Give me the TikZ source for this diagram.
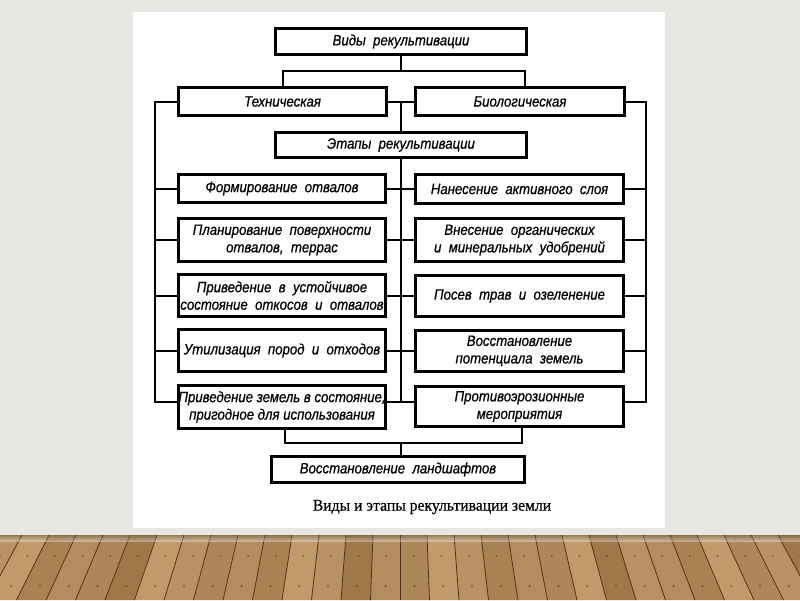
\documentclass[tikz,border=0pt]{standalone}
\usepackage{fontspec}
\setmainfont{Liberation Serif}
\newfontfamily\diagfont[FakeStretch=0.88,FakeBold=0.6]{Liberation Sans}
\newfontfamily\capfont[FakeStretch=0.95,FakeBold=0.6]{Liberation Serif}
\definecolor{slidegray}{HTML}{E9E7E3}
\definecolor{woodA}{HTML}{B89262}
\definecolor{woodB}{HTML}{A98252}
\definecolor{woodC}{HTML}{C09A68}
\definecolor{woodD}{HTML}{AE8758}
\definecolor{woodE}{HTML}{9F7848}
\definecolor{woodF}{HTML}{B38D5D}
\definecolor{woodline}{HTML}{4E331A}
\begin{document}
\begin{tikzpicture}[x=1pt,y=-1pt,
  box/.style={draw=black, line width=2.6pt, fill=white, align=center, inner sep=0pt,
    font=\diagfont\itshape\fontsize{15}{17.5}\selectfont},
  conn/.style={draw=black, line width=2pt},
  caption/.style={font=\capfont\fontsize{16.5}{18}\selectfont, inner sep=0pt}
]
\useasboundingbox (0,0) rectangle (800,600);
% slide background
\fill[slidegray] (0,0) rectangle (800,600);
% wooden floor
\foreach \i/\c in {-16/woodD,-15/woodA,-14/woodC,-13/woodB,-12/woodF,-11/woodD,-10/woodE,-9/woodC,-8/woodA,-7/woodD,-6/woodF,-5/woodB,-4/woodC,-3/woodA,-2/woodE,-1/woodF,0/woodD,1/woodC,2/woodA,3/woodB,4/woodF,5/woodD,6/woodC,7/woodE,8/woodA,9/woodF,10/woodB,11/woodC,12/woodD,13/woodA,14/woodE,15/woodC} {
  \fill[\c] ({400+\i*27},535) -- ({400+(\i+1)*27},535) -- ({400+(\i+1)*29.5},600) -- ({400+\i*29.5},600) -- cycle;
  \fill[woodline, opacity=0.55] ({400+(\i+0.5)*27.6},556) circle (1.1);
  \fill[woodline, opacity=0.55] ({400+(\i+0.5)*28.8},586) circle (1.2);
}
\foreach \i in {-16,...,16} {
  \draw[woodline, line width=0.8pt] ({400+\i*27},535) -- ({400+\i*29.5},600);
}
\shade[top color=black!70, bottom color=white, opacity=0.35] (0,535) rectangle (800,541);
% white panel
\fill[white] (133,12) rectangle (665,528);

% boxes
\node[box, minimum width=251pt, minimum height=26pt] (top) at (401,41.5) {Виды\ \ рекультивации};
\node[box, minimum width=208pt, minimum height=28pt] (tech) at (282.5,101.5) {Техническая};
\node[box, minimum width=209pt, minimum height=28pt] (bio) at (520,101.5) {Биологическая};
\node[box, minimum width=251pt, minimum height=25pt] (etapy) at (401,145) {Этапы\ \ рекультивации};

\node[box, minimum width=207pt, minimum height=28pt] (L1) at (282,188.5) {Формирование\ \ отвалов};
\node[box, minimum width=207pt, minimum height=43pt] (L2) at (282,240) {Планирование\ \ поверхности\\отвалов,\ \ террас};
\node[box, minimum width=207pt, minimum height=42pt] (L3) at (282,295.5) {Приведение\ \ в\ \ устойчивое\\состояние\ \ откосов\ \ и\ \ отвалов};
\node[box, minimum width=207pt, minimum height=42pt] (L4) at (282,350.5) {Утилизация\ \ пород\ \ и\ \ отходов};
\node[box, minimum width=207pt, minimum height=43pt] (L5) at (282,407) {Приведение земель в состояние,\\пригодное для использования};

\node[box, minimum width=208pt, minimum height=29pt] (R1) at (519.5,189) {Нанесение\ \ активного\ \ слоя};
\node[box, minimum width=208pt, minimum height=43pt] (R2) at (519.5,240) {Внесение\ \ органических\\и\ \ минеральных\ \ удобрений};
\node[box, minimum width=208pt, minimum height=41pt] (R3) at (519.5,296) {Посев\ \ трав\ \ и\ \ озеленение};
\node[box, minimum width=208pt, minimum height=41pt] (R4) at (519.5,351) {Восстановление\\потенциала\ \ земель};
\node[box, minimum width=208pt, minimum height=40pt] (R5) at (519.5,406.5) {Противоэрозионные\\мероприятия};

\node[box, minimum width=253pt, minimum height=26pt] (land) at (398,469.5) {Восстановление\ \ ландшафтов};

\node[caption] (cap) at (432,507) {Виды и этапы рекультивации земли};

% connectors
\coordinate (j1) at (401,71);
\coordinate (lb) at (155,402);
\coordinate (rb) at (646,402);
\coordinate (cb) at (401,402);
\coordinate (bj) at (401,443);

\draw[conn] (top.south) -- (j1);
\draw[conn] (tech.north) |- (j1) -| ([xshift=5pt]bio.north);
\draw[conn] (tech.east) -- (bio.west);
\draw[conn] (tech.east -| etapy.north) -- (etapy.north);
\draw[conn] (etapy.south) -- (cb);
\draw[conn] (tech.west) -| (lb) -- (lb -| L5.west);
\draw[conn] (bio.east) -| (rb) -- (rb -| R5.east);
\draw[conn] (cb -| L5.east) -- (cb -| R5.west);
\foreach \n in {1,2,3,4} {
  \draw[conn] (L\n.west -| lb) -- (L\n.west);
  \draw[conn] (L\n.east) -- (L\n.east -| R\n.west);
  \draw[conn] (R\n.east) -- (R\n.east -| rb);
}
\draw[conn] ([xshift=3pt]L5.south) |- (bj) -| ([xshift=2.5pt]R5.south);
\draw[conn] (bj) -- (bj |- land.north);
\end{tikzpicture}
\end{document}
